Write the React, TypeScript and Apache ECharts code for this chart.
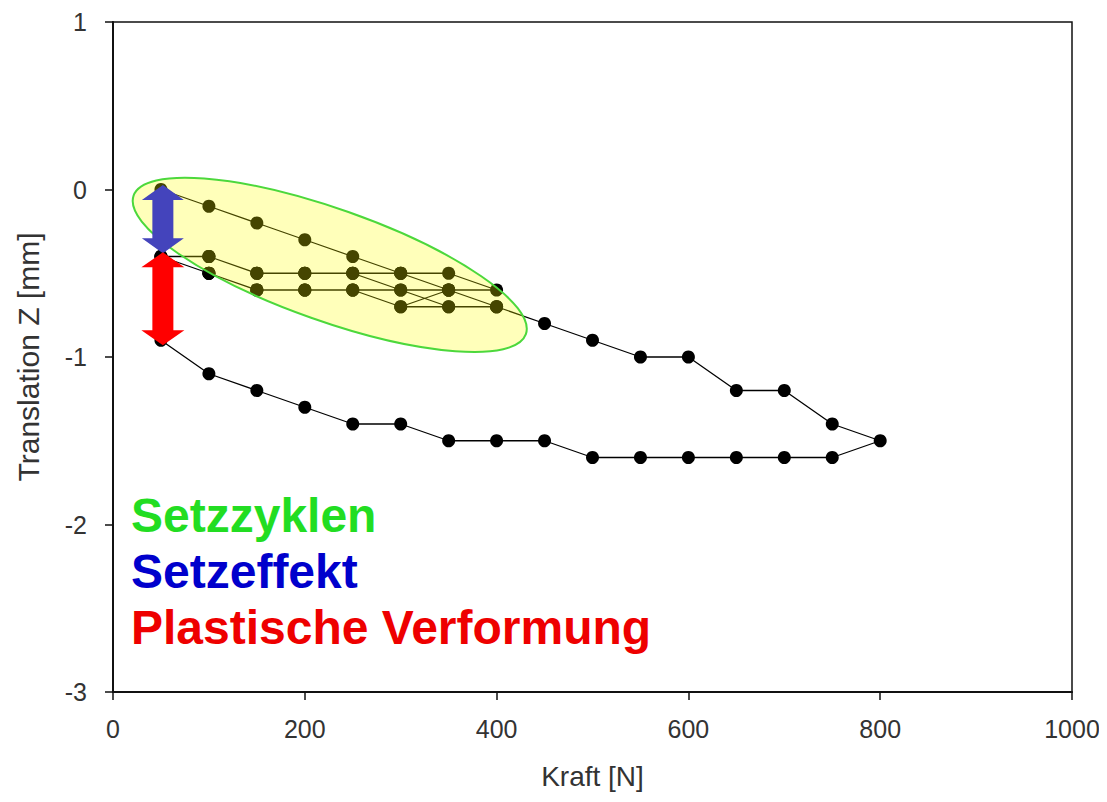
import React, { useEffect, useRef } from "react";
import * as echarts from "echarts";

// Kraft [N]
const forceN: number[] = [
  50, 100, 150, 200, 250, 300, 350, 400,
  350, 300, 250, 200, 150, 100, 50,
  100, 150, 200, 250, 300, 350, 400,
  350, 300, 250, 200, 150, 100, 50,
  100, 150, 200, 250, 300, 350, 400,
  350, 300, 250, 200, 150, 100, 50,
  100, 150, 200, 250, 300, 350, 400, 450,
  500, 550, 600, 650, 700, 750, 800,
  750, 700, 650, 600, 550, 500, 450, 400, 350, 300, 250, 200, 150, 100, 50,
];
// Translation Z [mm]
const translationZ: number[] = [
  0, -0.1, -0.2, -0.3, -0.4, -0.5, -0.6, -0.7,
  -0.7, -0.7, -0.6, -0.6, -0.6, -0.5, -0.4,
  -0.4, -0.5, -0.5, -0.5, -0.5, -0.5, -0.6,
  -0.6, -0.6, -0.6, -0.6, -0.6, -0.5, -0.4,
  -0.4, -0.5, -0.5, -0.5, -0.6, -0.7, -0.7,
  -0.6, -0.7, -0.6, -0.6, -0.6, -0.5, -0.4,
  -0.4, -0.5, -0.5, -0.5, -0.5, -0.6, -0.7, -0.8,
  -0.9, -1.0, -1.0, -1.2, -1.2, -1.4, -1.5,
  -1.6, -1.6, -1.6, -1.6, -1.6, -1.6, -1.5, -1.5, -1.5, -1.4, -1.4, -1.3, -1.2, -1.1, -0.9,
];

const xTicks = { min: 0, max: 1000, interval: 200 };
const yTicks = { min: -3, max: 1, interval: 1 };

const legendTexts: { text: string; color: string }[] = [
  { text: "Setzzyklen", color: "#22dd22" },
  { text: "Setzeffekt", color: "#0000cc" },
  { text: "Plastische Verformung", color: "#ee0000" },
];

// annotation anchors in data coordinates
const blueArrow = { x: 52, from: 0.027, to: -0.38 };
const redArrow = { x: 52, from: -0.375, to: -0.93 };
const ellipseCenter = [226, -0.45];

const FONT = "'Liberation Sans', Arial, sans-serif";

function arrowPoints(cx: number, yTop: number, yBot: number, headH: number, headW: number, shaftW: number) {
  return [
    [cx, yTop],
    [cx + headW, yTop + headH],
    [cx + shaftW, yTop + headH],
    [cx + shaftW, yBot - headH],
    [cx + headW, yBot - headH],
    [cx, yBot],
    [cx - headW, yBot - headH],
    [cx - shaftW, yBot - headH],
    [cx - shaftW, yTop + headH],
    [cx - headW, yTop + headH],
  ];
}

export default function App() {
  const ref = useRef<HTMLDivElement>(null);
  useEffect(() => {
    if (!ref.current) return;
    const chart = echarts.init(ref.current, undefined, { renderer: "svg" });
    const data = forceN.map((x, i) => [x, translationZ[i]]);
    chart.setOption({
      animation: false,
      backgroundColor: "#ffffff",
      grid: {
        left: 113,
        top: 22,
        right: 35,
        bottom: 110,
        show: true,
        borderColor: "#111",
        borderWidth: 1.5,
        backgroundColor: "transparent",
      },
      xAxis: {
        type: "value",
        min: xTicks.min,
        max: xTicks.max,
        interval: xTicks.interval,
        name: "Kraft [N]",
        nameLocation: "middle",
        nameGap: 70,
        nameTextStyle: { fontFamily: FONT, fontSize: 28, color: "#333" },
        axisLine: { show: true, onZero: false, lineStyle: { color: "#111", width: 2 } },
        axisTick: { show: true, length: 8, lineStyle: { color: "#111", width: 1.5 } },
        axisLabel: {
          fontFamily: FONT,
          fontSize: 25,
          color: "#333",
          margin: 24,
          formatter: (v: number) => String(v),
        },
        splitLine: { show: false },
      },
      yAxis: {
        type: "value",
        min: yTicks.min,
        max: yTicks.max,
        interval: yTicks.interval,
        name: "Translation Z [mm]",
        nameLocation: "middle",
        nameGap: 70,
        nameTextStyle: { fontFamily: FONT, fontSize: 30, color: "#333" },
        axisLine: { show: true, onZero: false, lineStyle: { color: "#111", width: 2 } },
        axisTick: { show: true, length: 8, lineStyle: { color: "#111", width: 1.5 } },
        axisLabel: { fontFamily: FONT, fontSize: 25, color: "#333", margin: 26 },
        splitLine: { show: false },
      },
      series: [
        {
          type: "line",
          data,
          z: 2,
          symbol: "circle",
          symbolSize: 13,
          lineStyle: { color: "#000", width: 1.3 },
          itemStyle: { color: "#000" },
        },
      ],
    });

    const px = (x: number, y: number) =>
      chart.convertToPixel({ gridIndex: 0 }, [x, y]) as number[];

    const b1 = px(blueArrow.x, blueArrow.from);
    const b2 = px(blueArrow.x, blueArrow.to);
    const r1 = px(redArrow.x, redArrow.from);
    const r2 = px(redArrow.x, redArrow.to);
    const ec = px(ellipseCenter[0], ellipseCenter[1]);

    chart.setOption({
      graphic: [
        {
          type: "ellipse",
          z: 11,
          x: ec[0],
          y: ec[1],
          rotation: -0.34,
          shape: { cx: 0, cy: 0, rx: 208, ry: 56 },
          style: { fill: "rgba(255,255,0,0.27)", stroke: "#4cd83c", lineWidth: 2 },
        },
        {
          type: "polygon",
          z: 12,
          shape: { points: arrowPoints(b1[0], b1[1], b2[1], 15, 21, 10.5) },
          style: { fill: "#4444bc" },
        },
        {
          type: "polygon",
          z: 12,
          shape: { points: arrowPoints(r1[0], r1[1], r2[1], 15, 21.5, 10.5) },
          style: { fill: "#ff0000" },
        },
        ...legendTexts.map((t, i) => ({
          type: "text",
          z: 13,
          left: 131,
          top: 491 + i * 56,
          style: {
            text: t.text,
            fill: t.color,
            font: `bold 48px ${FONT}`,
          },
        })),
      ],
    });

    return () => chart.dispose();
  }, []);
  return <div ref={ref} style={{ width: 1107, height: 802, margin: -8 }} />;
}
